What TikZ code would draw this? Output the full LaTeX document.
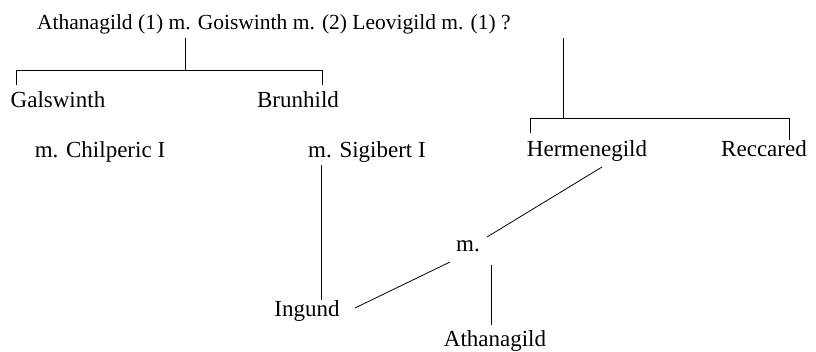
\documentclass[tikz,border=0pt]{standalone}
\usepackage{fontspec}
\setmainfont{Liberation Serif}
\begin{document}
\begin{tikzpicture}[x=1pt,y=-1pt,
  txt/.style={inner sep=0pt, anchor=base, font=\fontsize{23}{27}\selectfont},
  toptxt/.style={inner sep=0pt, anchor=base west, font=\fontsize{21.5}{26}\selectfont},
  ln/.style={line width=0.8pt, black}]
\useasboundingbox (0,0) rectangle (816,352);
\node[toptxt] (top) at (37,30) {Athanagild (1) m. Goiswinth m. (2) Leovigild m. (1) ?};
\node[txt] (gal) at (58,108) {Galswinth};
\node[txt] (bru) at (298,108) {Brunhild};
\node[txt] (chil) at (100,158) {m. Chilperic I};
\node[txt] (sig) at (367,158) {m. Sigibert I};
\node[txt] (herm) at (587,157) {Hermenegild};
\node[txt] (rec) at (764,157) {Reccared};
\node[txt] (mm) at (468,252) {m.};
\node[txt] (ing) at (307,317) {Ingund};
\node[txt] (ath) at (495,346) {Athanagild};
% left family
\coordinate (l0) at (185,38);
\coordinate (l1) at (185,70);
\coordinate (lg) at (16,85);
\coordinate (lb) at (322,85);
\draw[ln] (l0) -- (l1);
\draw[ln] (lg) -- (lg |- l1) -- (lb |- l1) -- (lb);
% right family
\coordinate (r0) at (563,38);
\coordinate (r1) at (563,118);
\coordinate (rh) at (530,133);
\coordinate (rr) at (789,140);
\draw[ln] (r0) -- (r1);
\draw[ln] (rh) -- (rh |- r1) -- (rr |- r1) -- (rr);
% Sigibert to Ingund
\coordinate (s0) at (321,165);
\coordinate (s1) at (321,300);
\draw[ln] (s0) -- (s1);
% Hermenegild to m.
\coordinate (h0) at (602,167);
\coordinate (h1) at (487,237);
\draw[ln] (h0) -- (h1);
% Ingund to m.
\coordinate (i0) at (355,308);
\coordinate (i1) at (450,262);
\draw[ln] (i0) -- (i1);
% m. to Athanagild
\coordinate (a0) at (491,265);
\coordinate (a1) at (491,325);
\draw[ln] (a0) -- (a1);
\end{tikzpicture}
\end{document}
